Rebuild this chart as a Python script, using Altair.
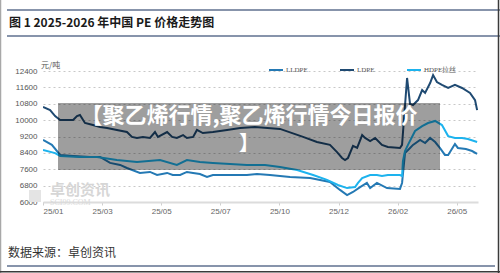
import altair as alt
import pandas as pd

# ---------------- data ----------------
tick_pos = [0, 20, 40, 60, 80, 100, 120, 140]
tick_labels = ["25/01", "25/03", "25/05", "25/07", "25/10", "25/12", "26/02", "26/05"]
y_ticks = [6000, 6800, 7600, 8400, 9200, 10000, 10800, 11600, 12400]
series_names = ["LLDPE", "LDPE", "HDPE拉丝"]
series_colors = ["#2479b4", "#1f4a72", "#1db3ee"]

ldpe_t = [0, 2.4, 4.1, 5.8, 10.2, 11.5, 12.5, 14.2, 16.9, 19.3, 21.7, 25.0, 28.4, 30.1, 31.8,
          33.8, 36.2, 37.9, 38.9, 42.0, 43.7, 45.3, 47.4, 48.7, 50.8, 52.1, 54.1, 57.5, 62.3,
          66.7, 71.7, 80.2, 88.0, 92.7, 97.1, 99.5, 101.2, 102.2, 103.2, 104.9, 106.3, 108.0,
          109.0, 110.7, 112.4, 114.7, 116.7, 120.8, 121.5, 123.2, 124.2, 125.2, 126.9, 128.3,
          129.3, 131.0, 132.0, 133.3, 135.0, 137.1, 139.4, 141.8, 144.5, 146.2, 146.9]
ldpe_v = [10640, 10490, 10200, 10010, 10010, 10200, 10250, 9860, 9760, 9660, 9620, 9520, 9420,
          9180, 9130, 9180, 9130, 9420, 9180, 9420, 9180, 9130, 9270, 9130, 9180, 9520, 9370,
          9420, 9520, 9620, 9660, 9570, 9180, 8930, 8790, 8440, 8150, 8050, 8150, 8740, 8640,
          9270, 9130, 8980, 9130, 8790, 8690, 8640, 8790, 12060, 10790, 10740, 10980, 11470,
          11330, 11810, 12200, 11860, 11720, 11570, 11720, 11570, 11330, 10980, 10490]

lldpe_t = [0, 3.0, 5.8, 10.2, 15.9, 19.3, 22.7, 26.1, 28.4, 32.8, 36.2, 38.6, 42.0, 43.9, 46.4,
           48.7, 50.8, 53.1, 55.5, 57.5, 62.3, 69.0, 72.4, 76.8, 83.6, 90.4, 97.1, 100.5, 102.9,
           104.9, 107.3, 109.6, 110.7, 113.0, 116.4, 120.8, 121.5, 122.5, 124.2, 125.2, 127.6,
           129.3, 131.0, 132.7, 134.3, 136.0, 137.1, 139.4, 140.4, 143.1, 145.2, 146.9]
lldpe_v = [9030, 8790, 8300, 8250, 8200, 8200, 7910, 7810, 7660, 7420, 7470, 7320, 7420, 7320,
           7320, 7470, 7420, 7370, 7220, 7320, 7320, 7320, 7370, 7320, 7220, 7170, 6980, 6590,
           6340, 6490, 6730, 6930, 6680, 6930, 6680, 6640, 6930, 8390, 8640, 8790, 9030, 8880,
           9130, 8930, 8640, 8300, 8300, 8830, 8640, 8590, 8490, 8350]

hdpe_t = [0, 4.1, 5.8, 12.5, 18.3, 25.0, 31.8, 39.6, 45.3, 48.7, 53.1, 57.5, 63.3, 69.0, 75.1,
          80.2, 86.0, 91.4, 96.1, 99.8, 102.9, 105.6, 106.6, 108.0, 110.7, 113.0, 114.7, 116.7,
          120.8, 121.5, 121.8, 122.5, 123.5, 125.9, 128.3, 130.3, 132.7, 135.0, 137.1, 139.4,
          141.8, 143.8, 146.9]
hdpe_v = [8540, 8390, 8250, 8200, 8200, 8050, 7950, 8050, 7810, 8050, 7950, 7910, 7860, 7810,
          7810, 7710, 7560, 7320, 7080, 6830, 6680, 6730, 6930, 7170, 7320, 7320, 7270, 7320,
          7320, 7270, 8000, 8490, 8790, 9470, 9710, 9860, 9960, 9760, 9220, 9130, 9130, 9080,
          8930]

# ---------------- table ----------------
rows = []
for name, ts, vs in [("LLDPE", lldpe_t, lldpe_v), ("LDPE", ldpe_t, ldpe_v), ("HDPE拉丝", hdpe_t, hdpe_v)]:
    for t, v in zip(ts, vs):
        rows.append({"t": t, "price": v, "series": name})
df = pd.DataFrame(rows)

# plot area: x 43..478, y 71..202 of a 500x273 canvas
OX, OY = 43, 71
W, H = 435, 131

label_js = "[" + ",".join("'%s'" % s for s in tick_labels) + "]"

lines = alt.Chart(df).mark_line(strokeWidth=2, clip=True).encode(
    x=alt.X("t:Q", scale=alt.Scale(domain=[0, 147.2], nice=False, zero=False),
            axis=alt.Axis(values=tick_pos, labelExpr=label_js + "[round(datum.value/20)]",
                          title=None, grid=False, domainColor="#dcdcdc", domainWidth=2,
                          tickColor="#cfcfcf", tickSize=3, labelPadding=2,
                          labelFont="Liberation Sans", labelFontSize=8, labelColor="#666666")),
    y=alt.Y("price:Q", scale=alt.Scale(domain=[6000, 12400], nice=False, zero=False),
            axis=alt.Axis(values=y_ticks, format="d", title=None, domain=False, ticks=False,
                          grid=True, gridDash=[2, 3], gridColor="#c8c8c8",
                          labelPadding=6, labelFont="Liberation Sans", labelFontSize=8,
                          labelColor="#555555")),
    color=alt.Color("series:N", sort=series_names,
                    scale=alt.Scale(domain=series_names, range=series_colors),
                    legend=alt.Legend(orient="none", legendX=225, legendY=-9,
                                      direction="horizontal", title=None,
                                      symbolType="stroke", symbolSize=196,
                                      symbolStrokeWidth=2, labelFont="Liberation Serif",
                                      labelFontSize=7, labelColor="#555555",
                                      labelOffset=2, columnPadding=28)),
    order=alt.Order("t:Q"),
)

one = alt.Data(values=[{"a": 1}])


def rx(x):
    return x - OX


def ry(y):
    return y - OY


def rule(x1, y1, x2, y2, color, width):
    return alt.Chart(one).mark_rule(color=color, strokeWidth=width).encode(
        x=alt.value(rx(x1)), x2=alt.value(rx(x2)), y=alt.value(ry(y1)), y2=alt.value(ry(y2)))


def text(s, x, y, size, color, weight="normal", align="left", font="Noto Sans CJK SC",
         baseline="middle", opacity=1.0, line_height=None):
    kw = {}
    if line_height is not None:
        kw["lineHeight"] = line_height
    return alt.Chart(one).mark_text(
        text=s, fontSize=size, color=color, fontWeight=weight, align=align, font=font,
        baseline=baseline, opacity=opacity, **kw
    ).encode(x=alt.value(rx(x)), y=alt.value(ry(y)))


deco = [
    # header / footer rules
    rule(7, 10, 500, 10, "#8794ab", 2),
    rule(7, 36, 500, 36, "#8794ab", 2),
    rule(7, 266, 495, 266, "#8794ab", 2),
    # image frame
    rule(0.5, 0, 0.5, 273, "#a8a8a8", 1.5),
    rule(498.5, 0, 498.5, 273, "#3a3a3a", 1.5),
    rule(0, 271.8, 500, 271.8, "#3a3a3a", 1.5),
    # texts
    text("图 1  2025-2026 年中国 PE 价格走势图", 9, 23, 12, "#1a1a1a", weight="bold"),
    text("数据来源：卓创资讯", 8, 253, 12, "#333333"),
    text("元/吨", 41, 66, 8, "#555555"),
    # watermark
    alt.Chart(one).mark_rect(color="#e4e4e4").encode(
        x=alt.value(rx(29)), x2=alt.value(rx(41)), y=alt.value(ry(190)), y2=alt.value(ry(202))),
    text("卓创资讯", 50, 190, 15, "#d6d6d6", weight="bold"),
    text("SCI99.COM", 50, 203, 8, "#dadada", font="Liberation Serif"),
]

overlay = [
    alt.Chart(one).mark_rect(color="#000000", opacity=0.38).encode(
        x=alt.value(rx(58)), x2=alt.value(rx(440)), y=alt.value(ry(103)), y2=alt.value(ry(170))),
    text("【聚乙烯行情,聚乙烯行情今日报价", 249, 106, 22, "#ffffff", weight="bold",
         align="center", baseline="top"),
    text("】", 249, 134, 20, "#ffffff", weight="bold", align="center", baseline="top"),
]

chart = alt.layer(*deco[:-3], lines, *deco[-3:], *overlay).properties(
    width=W, height=H,
    padding={"left": OX, "top": OY, "right": 500 - OX - W, "bottom": 273 - OY - H},
    autosize=alt.AutoSizeParams(type="none"),
    background="#ffffff",
).configure_view(stroke=None)

chart.save("out.html", embed_options={"renderer": "svg", "actions": False})
